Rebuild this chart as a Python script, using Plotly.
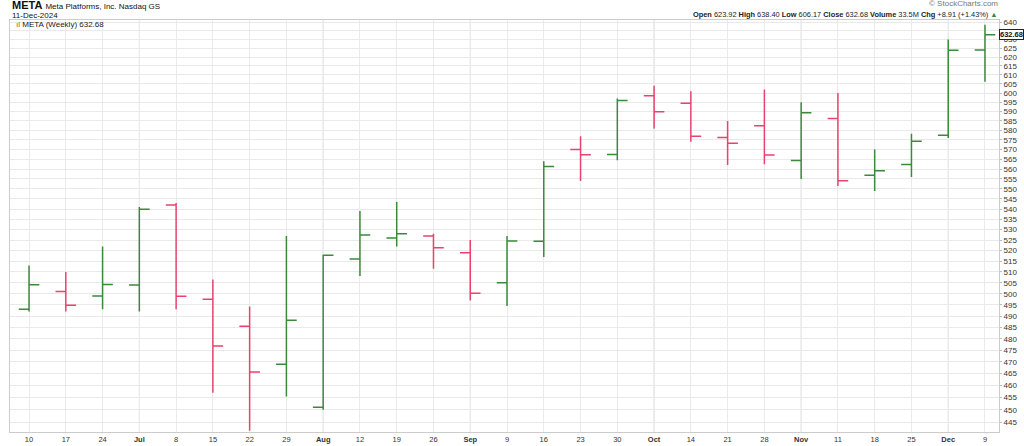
import numpy as np
import plotly.graph_objects as go

# ---------------- data (weekly OHLC, META) ----------------
WEEKS = ["2024-06-10", "2024-06-17", "2024-06-24", "2024-07-01", "2024-07-08", "2024-07-15",
         "2024-07-22", "2024-07-29", "2024-08-05", "2024-08-12", "2024-08-19", "2024-08-26",
         "2024-09-02", "2024-09-09", "2024-09-16", "2024-09-23", "2024-09-30", "2024-10-07",
         "2024-10-14", "2024-10-21", "2024-10-28", "2024-11-04", "2024-11-11", "2024-11-18",
         "2024-11-25", "2024-12-02", "2024-12-09"]
OPEN = [493, 501, 499, 504, 542, 497.5, 485.5, 469, 451, 516, 526, 527, 519, 505, 524.5,
        570, 567.5, 598.5, 594.5, 576.3, 582.4, 564.4, 586.3, 556.8, 562.3, 577.4, 623.92]
HIGH = [513, 510, 522, 541, 543, 506.5, 494.3, 527, 518, 539, 543.5, 528, 525, 527, 564,
        577, 597, 604, 601, 585, 602, 595, 600, 570, 578.3, 630, 638.40]
LOW = [492, 492, 493, 492, 493, 457, 441.5, 455.5, 450, 508.2, 522, 511.5, 497, 494.5, 517,
       554, 564.5, 581, 574, 562, 562.5, 555, 551.4, 549, 556, 576, 606.17]
CLOSE = [504.16, 494.78, 504.22, 539.91, 498.87, 476.79, 465.70, 488.14, 517.77, 527.42,
         528.00, 521.31, 500.27, 524.62, 561.35, 567.36, 595.94, 589.95, 576.93, 573.25,
         567.16, 589.34, 554.08, 559.14, 574.32, 623.77, 632.68]
X_LABELS = ["10", "17", "24", "Jul", "8", "15", "22", "29", "Aug", "12", "19", "26", "Sep", "9",
            "16", "23", "30", "Oct", "14", "21", "28", "Nov", "11", "18", "25", "Dec", "9"]
Y_TICKS = list(range(445, 645, 5))
LEVEL = 600
Y_RANGE = (441.0, 641.2)
X_RANGE = ("2024-06-06 09:00", "2024-12-11 16:00")

GREEN = "#3b8a3b"
RED = "#e8436e"
FONT = "Liberation Sans, Arial, sans-serif"
NARROW = "Liberation Sans Narrow, Arial Narrow, Liberation Sans, sans-serif"

fig = go.Figure()
fig.add_trace(go.Ohlc(
    x=WEEKS, open=OPEN, high=HIGH, low=LOW, close=CLOSE,
    increasing=dict(line=dict(color=GREEN, width=1.5)),
    decreasing=dict(line=dict(color=RED, width=1.5)),
    tickwidth=0.28, hoverinfo="skip", showlegend=False,
))

ticktext = [f"<b>{l}</b>" if not l.isdigit() else l for l in X_LABELS]
month_starts = [w for w, l in zip(WEEKS, X_LABELS) if not l.isdigit()]

shapes = []
for m in month_starts:
    shapes.append(dict(type="line", xref="x", yref="paper", x0=m, x1=m, y0=0, y1=1,
                       line=dict(color="#d4d4d4", width=1), layer="below"))
shapes.append(dict(type="line", xref="paper", yref="y", x0=0, x1=1,
                   y0=np.log10(LEVEL), y1=np.log10(LEVEL),
                   line=dict(color="#2a3a2a", width=2), layer="above"))

last = CLOSE[-1]
chg = CLOSE[-1] - CLOSE[-2]
pct = chg / CLOSE[-2] * 100

annotations = [
    dict(xref="paper", yref="paper", x=0.0, y=1.036, xanchor="left", yanchor="middle",
         text="<b>META</b> <span style='font-size:8px'>Meta Platforms, Inc. Nasdaq GS</span>",
         showarrow=False, font=dict(family=FONT, size=11, color="#111")),
    dict(xref="paper", yref="paper", x=0.0, y=1.012, xanchor="left", yanchor="middle",
         text="11-Dec-2024", showarrow=False, font=dict(family=FONT, size=8, color="#111")),
    dict(xref="paper", yref="paper", x=1.001, y=1.040, xanchor="right", yanchor="middle",
         text="© StockCharts.com", showarrow=False, font=dict(family=FONT, size=8, color="#777")),
    dict(xref="paper", yref="paper", x=1.001, y=1.014, xanchor="right", yanchor="middle",
         text=(f"<b>Open</b> {OPEN[-1]:.2f} <b>High</b> {HIGH[-1]:.2f} <b>Low</b> {LOW[-1]:.2f} "
               f"<b>Close</b> {last:.2f} <b>Volume</b> 33.5M <b>Chg</b> +{chg:.2f} (+{pct:.2f}%) "
               f"<span style='color:{GREEN}'>▲</span>"),
         showarrow=False, font=dict(family=FONT, size=7.4, color="#222")),
    dict(xref="paper", yref="paper", x=0.004, y=0.99, xanchor="left", yanchor="middle",
         text=f"<span style='color:{GREEN}'>ıl</span> META (Weekly) {last:.2f}",
         showarrow=False, font=dict(family=FONT, size=8, color="#222")),
    dict(xref="paper", yref="y", x=1.0005, y=np.log10(last), xanchor="left", yanchor="middle",
         text=f"<b>{last:.2f}</b>", showarrow=False, bgcolor="white", bordercolor="#222",
         borderwidth=1, borderpad=0, font=dict(family=NARROW, size=7.5, color="#111")),
]

fig.update_layout(
    width=1024, height=446,
    margin=dict(l=10, r=25, t=20, b=14),
    paper_bgcolor="white", plot_bgcolor="white",
    font=dict(family=FONT, size=8, color="#333"),
    shapes=shapes, annotations=annotations,
    xaxis=dict(
        type="date", range=list(X_RANGE), tickvals=WEEKS, ticktext=ticktext,
        showgrid=True, gridcolor="#ebebeb", gridwidth=1, automargin=False,
        showline=True, linecolor="#cccccc", mirror=True, ticks="", ticklen=0,
        tickfont=dict(family=FONT, size=7.5, color="#333"),
        rangeslider=dict(visible=False), zeroline=False,
    ),
    yaxis=dict(
        type="log", side="right", range=[np.log10(Y_RANGE[0]), np.log10(Y_RANGE[1])],
        tickvals=Y_TICKS, ticktext=[str(v) for v in Y_TICKS], automargin=False,
        showgrid=True, gridcolor="#e9e9e9", gridwidth=1,
        showline=True, linecolor="#cccccc", mirror=True,
        ticks="outside", ticklen=2, tickcolor="#bbbbbb",
        tickfont=dict(family=NARROW, size=8, color="#333"), zeroline=False,
    ),
)

fig.write_html("out.html", config={"displayModeBar": False},
               post_script="document.body.style.margin='0';document.body.style.overflow='hidden';")
